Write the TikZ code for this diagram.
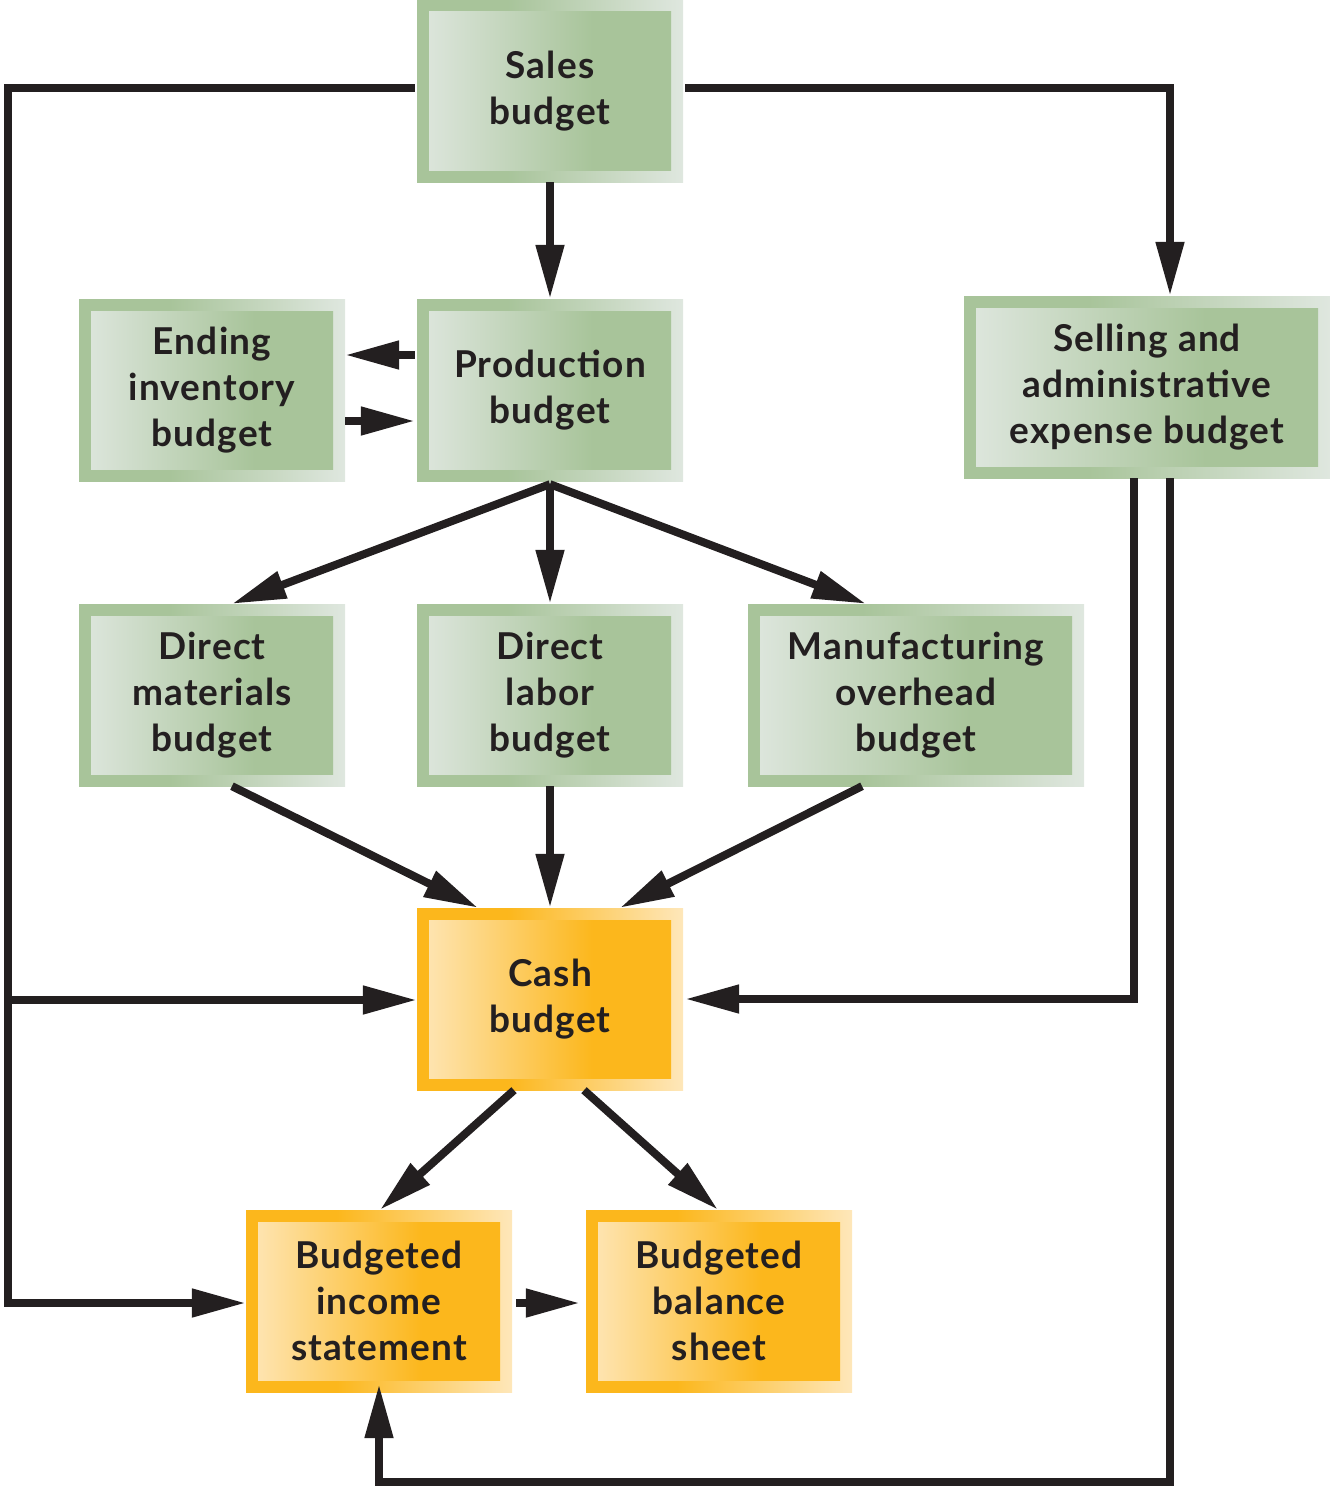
\documentclass[tikz,border=0pt]{standalone}
\usepackage{fontspec}
\setmainfont{Lato}[LetterSpace=3]
\usetikzlibrary{arrows.meta,calc}
\definecolor{gD}{HTML}{A8C49A}
\definecolor{gP}{HTML}{DFE7DF}
\definecolor{oD}{HTML}{FCB71C}
\definecolor{oP}{HTML}{FEE7BA}
\definecolor{ink}{HTML}{231F20}
\pgfdeclarehorizontalshading{gout}{100bp}{color(0bp)=(gD); color(25bp)=(gD); color(42bp)=(gD); color(75bp)=(gP); color(100bp)=(gP)}
\pgfdeclarehorizontalshading{gin}{100bp}{color(0bp)=(gP); color(25bp)=(gP); color(58bp)=(gD); color(75bp)=(gD); color(100bp)=(gD)}
\pgfdeclarehorizontalshading{oout}{100bp}{color(0bp)=(oD); color(25bp)=(oD); color(42bp)=(oD); color(75bp)=(oP); color(100bp)=(oP)}
\pgfdeclarehorizontalshading{oin}{100bp}{color(0bp)=(oP); color(25bp)=(oP); color(58bp)=(oD); color(75bp)=(oD); color(100bp)=(oD)}
\begin{document}
\begin{tikzpicture}[x=1pt,y=-1pt,
  box/.style={minimum width=266pt, minimum height=182pt, inner sep=0pt, align=center,
    text=ink, font=\fontsize{37}{46}\selectfont\bfseries},
  gbox/.style={box, shading=gout, path picture={\shade[shading=gin]
    ([shift={(12pt,12pt)}]path picture bounding box.south west) rectangle
    ([shift={(-12pt,-12pt)}]path picture bounding box.north east);}},
  obox/.style={box, shading=oout, path picture={\shade[shading=oin]
    ([shift={(12pt,12pt)}]path picture bounding box.south west) rectangle
    ([shift={(-12pt,-12pt)}]path picture bounding box.north east);}},
  ln/.style={draw=ink, line width=8pt, line join=miter},
  arr/.style={ln, -{Triangle[length=54pt, width=27pt]}}]
\useasboundingbox (0,0) rectangle (1330,1488);

\node[gbox] (s) at (550,91) {Sales\\budget};
\node[gbox] (p) at (550,390) {Production\\budget};
\node[gbox] (e) at (212,390) {Ending\\inventory\\budget};
\node[gbox, minimum width=366pt] (sel) at (1147,387) {Selling and\\administrative\\expense budget};
\node[gbox] (dm) at (212,695) {Direct\\materials\\budget};
\node[gbox] (dl) at (550,695) {Direct\\labor\\budget};
\node[gbox, minimum width=336pt] (mo) at (916,695) {Manufacturing\\overhead\\budget};
\node[obox] (cash) at (550,999) {Cash\\budget};
\node[obox] (inc) at (379,1301) {Budgeted\\income\\statement};
\node[obox] (bal) at (719,1301) {Budgeted\\balance\\sheet};

\coordinate (L1) at (8,88);
\coordinate (L2) at (8,1303);
\coordinate (L3) at (8,1000);
\coordinate (B2) at (379,1482);

\draw[arr, shorten <=2pt] ([yshift=3pt]s.west) -- (L1) -- (L2) -- ([yshift=-2pt]inc.west);
\draw[arr] (L3) -- ([yshift=-1pt]cash.west);
\draw[arr, shorten <=2pt] ([yshift=3pt]s.east) -| ([xshift=23pt]sel.north);
\draw[arr] (s.south) -- (p.north);
\draw[arr, shorten <=2pt] ([yshift=35pt]p.west) -- ([yshift=35pt]e.east);
\draw[arr] ([yshift=-31pt]e.east) -- ([yshift=-31pt,xshift=-2pt]p.west);
\draw[arr] ([yshift=-3pt]p.south) -- ([xshift=20pt]dm.north);
\draw[arr] ([yshift=-3pt]p.south) -- (dl.north);
\draw[arr] ([yshift=-3pt]p.south) -- ([xshift=-50pt]mo.north);
\draw[arr] ([xshift=20pt]dm.south) -- ([xshift=-72pt]cash.north);
\draw[arr] (dl.south) -- (cash.north);
\draw[arr] ([xshift=-54pt]mo.south) -- ([xshift=70pt]cash.north);
\draw[arr] ([xshift=-13pt]sel.south) |- ([xshift=2pt]cash.east);
\draw[arr] ([xshift=23pt]sel.south) |- (B2) -- ([yshift=8pt]inc.south);
\draw[arr] ([xshift=-36pt]cash.south) -- ([xshift=1pt]inc.north);
\draw[arr] ([xshift=34pt]cash.south) -- ([xshift=-1pt]bal.north);
\draw[arr, shorten <=4pt, shorten >=6pt] ([yshift=-2pt]inc.east) -- ([yshift=-2pt]bal.west);
\end{tikzpicture}
\end{document}
